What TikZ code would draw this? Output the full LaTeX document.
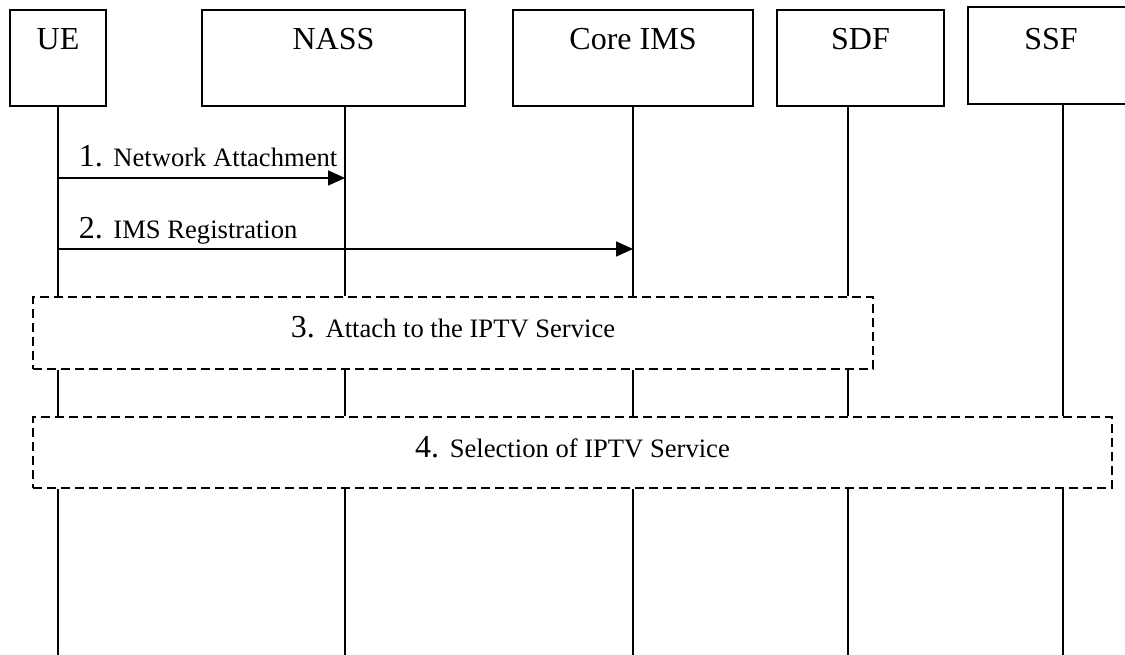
\documentclass[tikz,border=0pt]{standalone}
\usepackage{fontspec}
\setmainfont{Liberation Serif}
\usetikzlibrary{arrows.meta}
\newcommand\bignumfont{\fontsize{32}{38}\selectfont}
\newcommand\smallmsgfont{\fontsize{26.6}{32}\selectfont}
\begin{document}
\begin{tikzpicture}[x=1pt,y=-1pt,line width=1.6pt,
  actor/.style={draw,rectangle,inner sep=0pt,text height=40pt,text depth=56pt,anchor=base,font=\bignumfont},
  lifeline/.style={line width=1.6pt},
  msg/.style={line width=1.6pt,-{Triangle[length=17pt,width=15pt]}},
  phase/.style={draw,rectangle,inner sep=0pt,dash pattern=on 9pt off 5pt,line width=1.6pt},
  lbl/.style={inner sep=0pt,anchor=base west},
  plbl/.style={inner sep=0pt,anchor=base}]
\useasboundingbox (0,0) rectangle (1125,655);
% actors
\node[actor,minimum width=96pt] (ue) at (58,50) {UE};
\node[actor,minimum width=263pt] (nass) at (333.5,50) {NASS};
\node[actor,minimum width=240pt] (ims) at (633,50) {Core IMS};
\node[actor,minimum width=167pt] (sdf) at (860.5,50) {SDF};
\node[actor,minimum width=166pt,text height=43pt,text depth=54pt] (ssf) at (1051,50) {SSF};
% lifeline anchors
\coordinate (uel) at (58,106);
\coordinate (nassl) at (345,106);
\coordinate (imsl) at (633,106);
\coordinate (sdfl) at (848,106);
\coordinate (ssfl) at (1063,104);
\coordinate (bot) at (0,655);
% phases
\node[phase,minimum width=840pt,minimum height=72pt] (p3) at (453,333) {};
\node[phase,minimum width=1079pt,minimum height=71pt] (p4) at (572.5,452.5) {};
\node[plbl] (t3) at (453,337) {\bignumfont 3. \smallmsgfont Attach to the IPTV Service};
\node[plbl] (t4) at (572.5,457) {\bignumfont 4. \smallmsgfont Selection of IPTV Service};
% lifelines
\foreach \l in {uel,nassl,imsl,sdfl}{
  \draw[lifeline] (\l) -- (\l |- p3.north);
  \draw[lifeline] (\l |- p3.south) -- (\l |- p4.north);
}
\draw[lifeline] (ssfl) -- (ssfl |- p4.north);
\foreach \l in {uel,nassl,imsl,sdfl,ssfl}{
  \draw[lifeline] (\l |- p4.south) -- (\l |- bot);
}
% messages
\coordinate (m1) at (0,178);
\coordinate (m2) at (0,249);
\draw[msg] (uel |- m1) -- (nassl |- m1);
\draw[msg] (uel |- m2) -- (imsl |- m2);
\node[lbl] (t1) at (78,167) {\bignumfont 1. \smallmsgfont Network Attachment};
\node[lbl] (t2) at (78,239) {\bignumfont 2. \smallmsgfont IMS Registration};
\end{tikzpicture}
\end{document}
